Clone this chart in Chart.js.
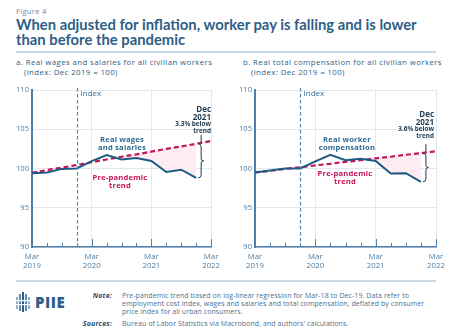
<!DOCTYPE html>
<html>
<head>
<meta charset="utf-8">
<script src="https://cdn.jsdelivr.net/npm/chart.js@4"></script>
<style>
  body { margin: 0; width: 451px; height: 336px; background: #fff; position: relative; overflow: hidden;
         font-family: "Open Sans", sans-serif; color: #2e5e86; }
  .abs { position: absolute; white-space: nowrap; }
  .fig { left: 16px; top: 6px; font-size: 7.6px; letter-spacing: 0.3px; color: #6a8aa5; }
  .title { left: 16px; top: 17px; font-family: Lato, sans-serif; font-size: 14.8px; font-weight: 700; line-height: 15px; color: #2e5e86; }
  .rule { position: absolute; left: 16px; width: 420px; height: 1.5px; background: #cad7e3; }
  .sub { top: 57px; font-size: 7.8px; letter-spacing: 0.42px; line-height: 10px; color: #2e5e86; }
  .sub span { padding-left: 8px; }
  canvas { position: absolute; }
  .lbl { font-size: 7.6px; font-weight: 700; letter-spacing: 0.2px; line-height: 7.6px; text-align: center; }
  .blue { color: #2e6a94; }
  .red { color: #c8145a; }
  .dec { font-size: 8px; font-weight: 700; line-height: 8px; text-align: right; color: #1f3a52; }
  .dec small { font-size: 6.4px; line-height: 6.8px; display: block; }
  .foot { font-size: 7px; letter-spacing: 0.08px; line-height: 7.9px; color: #4f6f8c; }
  .head { font-weight: 700; font-style: italic; letter-spacing: 0.2px; text-align: right; color: #2e4a66; }
</style>
</head>
<body>
<div class="abs fig">Figure 4</div>
<div class="abs title">When adjusted for inflation, worker pay is falling and is lower<br>than before the pandemic</div>
<div class="rule" style="top:51px"></div>
<div class="abs sub" style="left:16px">a. Real wages and salaries for all civilian workers<br><span>(index: Dec 2019 = 100)</span></div>
<div class="abs sub" style="left:243px">b. Real total compensation for all civilian workers<br><span>(index: Dec 2019 = 100)</span></div>

<canvas id="wagesChart" width="226" height="190" style="left:0;top:82px"></canvas>
<canvas id="compChart" width="226" height="190" style="left:225px;top:82px"></canvas>

<div class="abs lbl blue" style="left:92px;top:136px;width:60px">Real wages<br>and salaries</div>
<div class="abs lbl red" style="left:90px;top:174px;width:60px">Pre-pandemic<br>trend</div>
<div class="abs dec" style="left:160px;top:105px;width:51px">Dec<br>2021<small>3.3% below<br>trend</small></div>

<div class="abs lbl blue" style="left:312px;top:136px;width:70px">Real worker<br>compensation</div>
<div class="abs lbl red" style="left:315px;top:170px;width:60px">Pre-pandemic<br>trend</div>
<div class="abs dec" style="left:383px;top:110px;width:51px">Dec<br>2021<small>3.6% below<br>trend</small></div>

<div class="rule" style="top:280px"></div>

<svg class="abs" style="left:15px;top:292px" width="18" height="20" viewBox="0 0 18 20">
  <rect x="1" y="5" width="2" height="12" fill="#8fb0cc"/>
  <rect x="4" y="2" width="2" height="17" fill="#5a88b0"/>
  <rect x="7" y="0" width="2" height="20" fill="#2e5e86"/>
  <rect x="10" y="2" width="2" height="17" fill="#5a88b0"/>
  <rect x="13" y="5" width="2" height="12" fill="#8fb0cc"/>
  <rect x="0" y="8" width="16" height="1.2" fill="#ffffff"/>
  <rect x="0" y="12" width="16" height="1.2" fill="#ffffff"/>
</svg>
<div class="abs" style="left:35px;top:292px;font-size:15px;font-weight:800;color:#2e5e86;letter-spacing:0.5px">PIIE</div>

<div class="abs foot head" style="left:66px;top:292px;width:46px">Note:</div>
<div class="abs foot" style="left:122px;top:292px">Pre-pandemic trend based on log-linear regression for Mar-18 to Dec-19. Data refer to<br>employment cost index, wages and salaries and total compensation, deflated by consumer<br>price index for all urban consumers.</div>
<div class="abs foot head" style="left:66px;top:320px;width:46px">Sources:</div>
<div class="abs foot" style="left:122px;top:320px">Bureau of Labor Statistics via Macrobond, and authors' calculations.</div>

<script>
// quarterly index values, Dec 2019 = 100
const quarters = ['Mar 2019', 'Jun 2019', 'Sep 2019', 'Dec 2019', 'Mar 2020', 'Jun 2020', 'Sep 2020',
                  'Dec 2020', 'Mar 2021', 'Jun 2021', 'Sep 2021', 'Dec 2021', 'Mar 2022'];
const wages = [99.4, 99.5, 99.95, 100, 100.95, 101.7, 101.15, 101.35, 100.95, 99.55, 99.85, 98.8, null];
const wagesTrend = [99.45, 99.8, 100.1, 100.45, 100.8, 101.15, 101.5, 101.8, 102.15, 102.5, 102.8, 103.15, 103.5];
const comp = [99.5, 99.75, 100, 100, 100.9, 101.75, 101.05, 101.25, 100.95, 99.35, 99.4, 98.3, null];
const compTrend = [99.5, 99.7, 99.95, 100.15, 100.4, 100.6, 100.85, 101.05, 101.3, 101.5, 101.75, 101.95, 102.2];
const yTicks = [90, 95, 100, 105, 110];
const indexQuarter = 'Dec 2019';
const gapQuarter = 'Dec 2021';

const axisBlue = '#4f7fa8';
const gridColor = '#e1e9f0';

Chart.defaults.font.family = '"Open Sans", sans-serif';
Chart.defaults.animation = false;

// small upward quarter ticks, the dashed index line and the gap bracket
const decorations = {
  id: 'decorations',
  afterDatasetsDraw(chart) {
    const { ctx, chartArea, scales: { x, y } } = chart;
    ctx.save();
    ctx.strokeStyle = axisBlue;
    ctx.lineWidth = 1;
    quarters.forEach((q, i) => {
      const px = Math.round(x.getPixelForValue(i)) + 0.5;
      const len = q.startsWith('Mar') ? 8 : 4;
      ctx.beginPath();
      ctx.moveTo(px, chartArea.bottom);
      ctx.lineTo(px, chartArea.bottom - len);
      ctx.stroke();
    });

    const ix = Math.round(x.getPixelForValue(quarters.indexOf(indexQuarter))) + 0.5;
    ctx.setLineDash([3.5, 2.5]);
    ctx.lineWidth = 1.2;
    ctx.strokeStyle = '#5a86ad';
    ctx.beginPath();
    ctx.moveTo(ix, chartArea.top - 2);
    ctx.lineTo(ix, chartArea.bottom);
    ctx.stroke();
    ctx.setLineDash([]);
    ctx.fillStyle = '#3a6d96';
    ctx.font = '8px "Open Sans"';
    ctx.textBaseline = 'middle';
    ctx.fillText('Index', ix + 3, chartArea.top + 3.5);

    // curly bracket between trend and actual at Dec 2021
    const gi = quarters.indexOf(gapQuarter);
    const actual = chart.data.datasets[1].data[gi];
    const trend = chart.data.datasets[0].data[gi];
    const bx = x.getPixelForValue(gi) + 5;
    const yt = y.getPixelForValue(trend);
    const ya = y.getPixelForValue(actual);
    const ym = (yt + ya) / 2;
    ctx.strokeStyle = '#1f3a52';
    ctx.lineWidth = 1;
    ctx.beginPath();
    ctx.moveTo(bx, yt - 9);
    ctx.lineTo(bx, yt - 1);
    ctx.stroke();
    ctx.beginPath();
    ctx.moveTo(bx - 3, yt);
    ctx.quadraticCurveTo(bx, yt, bx, yt + 3);
    ctx.lineTo(bx, ym - 2);
    ctx.quadraticCurveTo(bx, ym, bx + 2.5, ym);
    ctx.quadraticCurveTo(bx, ym, bx, ym + 2);
    ctx.lineTo(bx, ya - 3);
    ctx.quadraticCurveTo(bx, ya, bx - 3, ya);
    ctx.stroke();
    ctx.restore();
  }
};

function makeChart(id, actual, trend, axisWidth, padRight) {
  const fillFrom = quarters.indexOf('Mar 2020');
  return new Chart(document.getElementById(id), {
    type: 'line',
    data: {
      labels: quarters,
      datasets: [
        {
          data: trend,
          borderColor: '#c8145a',
          borderWidth: 2.2,
          borderDash: [5, 3],
          pointRadius: 0,
          fill: false,
          order: 1
        },
        {
          data: actual,
          borderColor: '#1e5b84',
          borderWidth: 2,
          pointRadius: 0,
          fill: false,
          order: 0
        },
        {
          // shaded shortfall below the trend
          data: actual.map((v, i) => (i >= fillFrom ? v : null)),
          borderWidth: 0,
          borderColor: 'rgba(0,0,0,0)',
          pointRadius: 0,
          fill: { target: 0, above: 'rgba(0,0,0,0)', below: '#fdedf2' },
          order: 2
        }
      ]
    },
    options: {
      responsive: false,
      layout: { padding: { top: 8, right: padRight, left: 0, bottom: 0 } },
      plugins: { legend: { display: false }, tooltip: { enabled: false } },
      scales: {
        x: {
          type: 'category',
          offset: false,
          afterFit: s => { s.height = 25; },
          grid: {
            drawTicks: false,
            color: ctx => (ctx.index > 0 && quarters[ctx.index] && quarters[ctx.index].startsWith('Mar')) ? gridColor : 'rgba(0,0,0,0)'
          },
          border: { color: axisBlue, width: 1.5 },
          ticks: {
            autoSkip: false,
            maxRotation: 0,
            padding: 6,
            color: '#4d7ca3',
            font: { size: 7.8, lineHeight: 1.05 },
            callback: function (v) {
              const q = this.getLabelForValue(v);
              return q.startsWith('Mar') ? q.split(' ') : '';
            }
          }
        },
        y: {
          min: yTicks[0],
          max: yTicks[yTicks.length - 1],
          afterFit: s => { s.width = axisWidth; },
          afterBuildTicks: s => { s.ticks = yTicks.map(v => ({ value: v })); },
          grid: { drawTicks: false, color: gridColor },
          border: { color: axisBlue, width: 2 },
          ticks: { padding: 3, color: '#4d7ca3', font: { size: 7.6 } }
        }
      }
    },
    plugins: [decorations]
  });
}

makeChart('wagesChart', wages, wagesTrend, 32, 13);
makeChart('compChart', comp, compTrend, 30, 15);
</script>
</body>
</html>
